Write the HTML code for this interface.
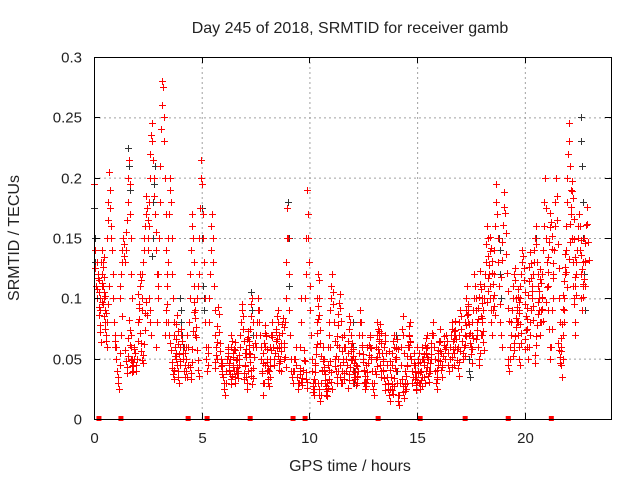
<!DOCTYPE html>
<html><head><meta charset="utf-8"><style>
body{margin:0;background:#fff;width:640px;height:480px;overflow:hidden}
svg text{font-family:"Liberation Sans",sans-serif;fill:#222}
</style></head><body>
<svg id="chart" width="640" height="480" viewBox="0 0 640 480" xmlns="http://www.w3.org/2000/svg">
<rect width="640" height="480" fill="#fff"/>
<text x="350" y="33" font-size="16" text-anchor="middle">Day 245 of 2018, SRMTID for receiver gamb</text>
<text transform="translate(19,238) rotate(-90)" font-size="16" text-anchor="middle">SRMTID / TECUs</text>
<text x="350" y="471" font-size="16" text-anchor="middle">GPS time / hours</text>
<g id="grid"></g>
<g id="marks"></g>
<g id="axes"></g>
</svg>
<script>
const xTicks=[0,5,10,15,20];
const yTicks=[0,0.05,0.1,0.15,0.2,0.25,0.3];
const yTickLabels=["0","0.05","0.1","0.15","0.2","0.25","0.3"];
const sampleStep=0.03;
const redTrackStarts=[0.0,0.35,0.6,0.95,1.2,1.7,2.25,2.5,2.9,3.3,3.7,4.2,4.8,5.3,5.9,6.7,7.5,8.1,8.8,9.3,9.8,10.4,10.9,11.5,12.1,12.8,13.4,14.0,14.6,15.0,15.6,16.3,16.9,17.5,18.0,18.5,19.2,19.7,20.2,20.7,21.3,21.8,22.3,
 0.15,1.45,2.05,3.55,4.45,5.6,6.2,6.95,7.8,8.45,9.55,10.15,10.65,11.2,11.8,12.45,13.1,13.7,14.3,14.85,15.3,15.9,16.6,17.2,17.75,18.25,18.9,19.45,20.0,20.45,21.0,21.55,22.05,22.6];
const redTrackValues=[
[195,140,125,110,130,100,120,105,115,90,100,130,120,110,95,105,85,75,65,70],
[120,140,130,110,100,90,80,70,60,80,95,110],
[150,165,180,205,190,175,160,150,140,120,100,80,65,60],
[80,70,60,50,40,35,30,25,45,55,70,85],
[100,110,120,130,140,150,145,135,130,140,155,165,180,200,215,195,170,150,120,100],
[70,60,50,45,40,50,60,55,45,40,50,65,80,95,110,120,115,100,90],
[120,130,140,150,160,170,185,175,165,150,100,90,80,70],
[140,160,180,200,220,235,245,230,215,200,185,170,155,140,120,110,100],
[60,80,100,120,150,180,210,240,260,280,275,250,230,200,170,140,120,95,80,70],
[70,80,90,110,130,150,170,190,200,180,150,120,100],
[80,70,60,55,50,45,40,35,30,45,60,70,75,65,55,50,40,35,45,60,70],
[60,55,50,40,35,45,60,80,100,120,140,160,170,150,130,110,90,70],
[100,110,120,150,175,200,215,195,170,150,130,100,80,60,50,40,45,55],
[60,80,100,120,140,160,170,150,130,110,90,70,60,50],
[50,45,40,35,30,25,20,30,40,50,60,55,45,40,50,60,70,65,55,45,40,35,30,40,50],
[40,50,60,70,80,90,95,85,75,65,55,45,35,30,25,40,55,65,75,85,95,100,80,60],
[60,70,80,90,100,90,80,70,60,50,40,30,20,30,45,60,70,50,40],
[30,40,50,60,70,80,70,60,50,45,55,65,75,85,90,80,70,60,50,40],
[50,60,80,100,130,150,175,150,120,90,70,50,40,35,30,40,50],
[40,50,60,45,35,30,25,30,40,60,80,100],
[100,120,150,190,170,150,130,110,90,70,50,40,30,25,20,30,45,60,80,100,120,115,100],
[30,25,20,15,20,30,40,50,60,50,40,30,25,20,30,45,60,70,60],
[70,80,90,100,110,120,105,95,80,65,50,40,35,30,40,50,60,45,35,30],
[30,40,50,60,70,60,50,40,45,55,65,75,85,80,70,60,50,40,30,35],
[40,50,45,35,30,40,55,70,80,90,80,70,60,50,40,30,25,30,45,60],
[70,60,50,40,30,25,20,30,40,50,60,70,80,75,65,55,45,35,40],
[40,50,60,70,65,55,45,35,30,25,20,15,25,35,45,55,65,70,60,50],
[50,40,30,20,15,12,20,30,45,60,75,85,70,55,40,30,25,30,45,60],
[60,70,80,65,50,40,30,35,45,55,45,35,25],
[60,50,40,30,25,30,40,50,60,50,45,35,30,40,55,70,60,50,40],
[40,50,60,70,80,70,60,50,40,30,25,35,45,55,65,75,65,55,45,35],
[50,60,70,65,55,45,40,50,60,70,80,75,65,55,45,60,70],
[60,70,80,90,85,75,65,55,50,60,70,80,90,100,110,95,80,70],
[60,70,80,90,100,120,110,100,90,80,70,60,50,45,55,70,85,100],
[70,80,90,100,110,120,130,145,160,150,135,120,110,100,90,80,70],
[90,100,120,140,160,180,195,170,150,130,110,95,80,70,60],
[50,45,40,50,60,70,80,90,100,110,120,125,115,100,90,80,70,60,50,45],
[80,90,100,110,120,130,140,135,125,115,105,95,85,75,60,50],
[60,70,80,90,100,110,120,130,140,150,160,145,130,120,110,100,90,80],
[70,80,90,100,120,140,160,180,200,175,150,130,110,90,75,60,50,60,75,90],
[100,120,140,160,180,200,185,165,145,125,100,80,60,45,35,50,70,90],
[80,100,120,140,160,180,200,220,245,230,210,190,170,150,130,110,95,80,70],
[100,110,120,130,140,150,160,170,160,140,120,100,90,110,130,150,130,110],
[108,117,93,86,78,72,64,97,113,126,134,118,102,88],
[57,48,43,38,52,67,82,74,61,49,44,39,47,58],
[104,92,83,71,63,56,49,46,53,62,74,88,97,86],
[63,57,47,42,37,33,41,52,66,79,86,73,62,54,48],
[43,38,33,47,58,73,89,97,84,76,68,57,49,41,36],
[47,42,53,64,77,93,87,72,63,56,44,37,46],
[58,52,46,41,37,33,29,36,43,51,58,64,57,49,43,38,34,45,53],
[33,38,44,51,58,66,73,68,61,54,47,41,36,29,34,42,51,63],
[38,46,55,63,71,78,69,58,47,41,33,27,35,44,57,68],
[72,66,59,52,46,41,48,56,63,71,79,84,76,63,51,43],
[42,37,31,28,34,41,49,57,48,39,33,26,31],
[22,27,33,39,46,54,62,71,83,94,86,74,63,52,41],
[48,43,37,32,27,23,19,26,33,41,48,39,31,25],
[44,52,61,69,78,87,96,104,92,81,68,56,47,38,33],
[26,32,37,43,49,56,63,58,52,46,39,33,28,36,44],
[61,54,47,41,36,31,27,33,39,46,53,61,68,59,51],
[37,44,51,58,66,73,79,71,63,55,48,41,34,29,24],
[56,48,41,35,29,24,21,27,34,42,51,59,66,58],
[33,27,22,17,23,29,36,44,52,61,69,77,64,52],
[46,39,33,28,24,31,38,46,55,47,39,32,27,35],
[47,54,61,67,59,51,43,36,31,38,46,54,63,71],
[33,41,49,57,64,56,48,41,35,43,52,61,69,58],
[43,51,58,66,73,81,74,66,58,49,42,36,47,56],
[52,61,69,78,86,94,87,79,71,63,54,46,58,67],
[66,74,83,92,101,112,123,108,96,84,73,64,57],
[97,106,117,128,139,151,142,131,121,112,103,94,86],
[118,132,147,161,176,188,171,154,137,121,106,92,81],
[52,57,63,69,76,84,93,101,108,97,88,79,71,63],
[58,66,74,83,92,103,114,126,138,129,117,106,94,82],
[46,53,61,69,78,87,97,106,116,124,113,101,91,81],
[97,109,122,134,147,159,171,163,152,141,129,117],
[63,57,51,46,56,67,79,91,103,114,126,137,122,109],
[133,147,162,176,189,197,183,166,149,134,118,103],
[148,136,124,112,101,116,131,146,161,176,162,147,132]
];
const blackTrackStarts=[0.0,1.6,2.7,4.0,5.0,7.3,9.0,12.0,14.0,17.4,18.8,20.5,22.6];
const blackTrackValues=[
[175,150,130,110,100],[225,210,190,170],[135,150,180,195,210],[100,90,80,70,60],
[175,150,110,100,90],[105,90,70,60],[180,150,110],[80,60,40,30],[70,60,40,20],
[50,40,35],[150,140,120,100],[160,150,130],[250,230,210,180,150,120,90]
];
const zeroTimes=[0.23,1.25,4.37,5.25,7.25,9.24,9.8,13.19,15.14,17.23,19.23,21.23];

const L=94,R=611,T=57,B=419,XMAX=24,YMAX=0.3;
const xs=t=>L+(t/XMAX)*(R-L);
const ys=v=>B-(v/YMAX)*(B-T);
const NS="http://www.w3.org/2000/svg";
const grid=document.getElementById('grid'),marks=document.getElementById('marks'),axes=document.getElementById('axes');
function mk(tag,attrs,parent){const e=document.createElementNS(NS,tag);for(const k in attrs)e.setAttribute(k,attrs[k]);parent.appendChild(e);return e;}

let g='';
yTicks.forEach(v=>{if(v>0&&v<YMAX)g+=`M${L} ${ys(v)+0.5}H${R}`;});
xTicks.forEach(t=>{if(t>0)g+=`M${xs(t)+0.5} ${T}V${B}`;});
const gp=mk('path',{d:g,stroke:'#a0a0a0','stroke-dasharray':'2,3',fill:'none'},grid);



function plusPath(starts,vals){let d='';starts.forEach((s,i)=>{vals[i].forEach((v,j)=>{const x=Math.round(xs(s+j*sampleStep))+0.5,y=Math.round(ys(v/1000))+0.5;d+=`M${x-3.5} ${y}h7M${x} ${y-3.5}v7`;});});return d;}
const bp=mk('path',{d:plusPath(blackTrackStarts,blackTrackValues),stroke:'#333',fill:'none','stroke-width':1},marks);


const rp=mk('path',{d:plusPath(redTrackStarts,redTrackValues),stroke:'#ff0000',fill:'none','stroke-width':1},marks);


zeroTimes.forEach(t=>{const r=mk('rect',{x:xs(t)-2.5,y:B-3,width:5,height:5,fill:'#ff0000'},marks);

});

const frame=mk('rect',{x:L+0.5,y:T+0.5,width:R-L,height:B-T,fill:'none',stroke:'#000'},axes);


let tk='';
yTicks.forEach((v,i)=>{const y=Math.round(ys(v))+0.5;tk+=`M${L} ${y}h6M${R} ${y}h-6`;
const tx=mk('text',{x:L-12,y:y+5,'font-size':15,'text-anchor':'end'},axes);tx.textContent=yTickLabels[i];

});
xTicks.forEach(t=>{const x=Math.round(xs(t))+0.5;tk+=`M${x} ${B}v-6M${x} ${T}v6`;
const tx=mk('text',{x:x,y:B+24,'font-size':15,'text-anchor':'middle'},axes);tx.textContent=String(t);

});
const tp=mk('path',{d:tk,stroke:'#000',fill:'none'},axes);


</script>
</body></html>
